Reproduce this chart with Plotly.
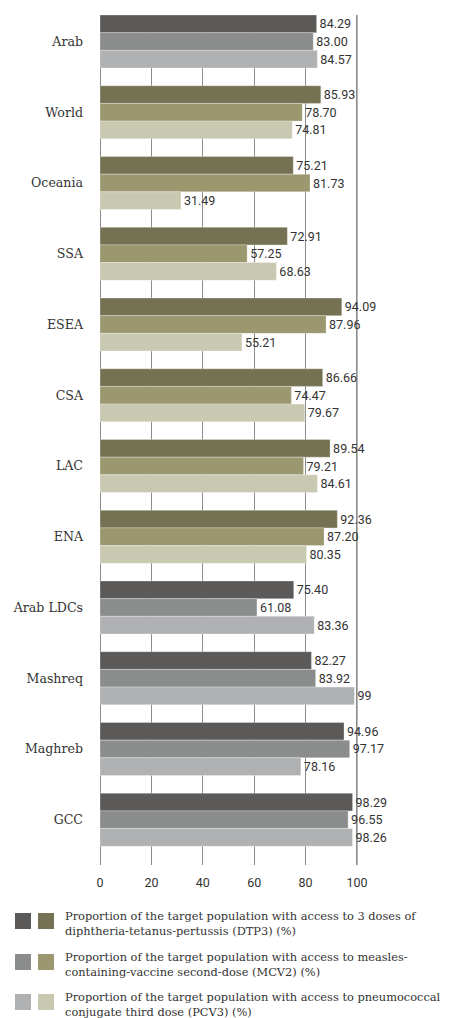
import plotly.graph_objects as go

# Regions, top to bottom
regions = ["Arab", "World", "Oceania", "SSA", "ESEA", "CSA", "LAC", "ENA",
           "Arab LDCs", "Mashreq", "Maghreb", "GCC"]

# Coverage values (%), kept as the printed labels
dtp3 = ["84.29", "85.93", "75.21", "72.91", "94.09", "86.66", "89.54", "92.36",
        "75.40", "82.27", "94.96", "98.29"]
mcv2 = ["83.00", "78.70", "81.73", "57.25", "87.96", "74.47", "79.21", "87.20",
        "61.08", "83.92", "97.17", "96.55"]
pcv3 = ["84.57", "74.81", "31.49", "68.63", "55.21", "79.67", "84.61", "80.35",
        "83.36", "99", "78.16", "98.26"]

x_ticks = [0, 20, 40, 60, 80, 100]

arab_regions = {"Arab", "Arab LDCs", "Mashreq", "Maghreb", "GCC"}

legend_texts = [
    "Proportion of the target population with access to 3 doses of<br>diphtheria-tetanus-pertussis (DTP3) (%)",
    "Proportion of the target population with access to measles-<br>containing-vaccine second-dose (MCV2) (%)",
    "Proportion of the target population with access to pneumococcal<br>conjugate third dose (PCV3) (%)",
]

# palettes: (grey for Arab groupings, olive for world regions)
palettes = [
    ("#5b5a58", "#757253"),
    ("#8b8d8d", "#9b976f"),
    ("#b0b1b3", "#c9c8b1"),
]

W, H = 475, 1018
L, R, T, B = 99, 117, 15, 153
PW, PH = W - L - R, H - T - B


def px_x(p):
    return (p - L) / PW


def px_y(p):
    return (H - B - p) / PH


fig = go.Figure()
series = [dtp3, mcv2, pcv3]
for vals, (grey, olive) in zip(series, palettes):
    fig.add_trace(go.Bar(
        y=regions,
        x=[float(v) for v in vals],
        orientation="h",
        text=vals,
        textposition="outside",
        cliponaxis=False,
        constraintext="none",
        textfont=dict(family="Roboto", size=12.5, color="#333333"),
        marker=dict(color=[grey if r in arab_regions else olive for r in regions],
                    line=dict(color="white", width=0.3)),
        hoverinfo="skip",
        showlegend=False,
    ))

shapes = []
annotations = []
# legend rows: swatches and text
row_tops = [913, 954, 994]
for i, (top, txt) in enumerate(zip(row_tops, legend_texts)):
    grey, olive = palettes[i]
    for x0, col in [(15, grey), (38, olive)]:
        shapes.append(dict(type="rect", xref="paper", yref="paper",
                           x0=px_x(x0), x1=px_x(x0 + 16),
                           y0=px_y(top + 16), y1=px_y(top),
                           fillcolor=col, line=dict(width=0)))
    annotations.append(dict(xref="paper", yref="paper", x=px_x(63), y=px_y(top + 10),
                            xanchor="left", yanchor="middle", align="left",
                            text=txt, showarrow=False,
                            font=dict(family="DejaVu Serif", size=11.4, color="#333333")))

# heavier rule at 100%
shapes.append(dict(type="line", xref="x", yref="paper", x0=100, x1=100, y0=0, y1=1,
                   line=dict(color="#b4b4b4", width=2), layer="below"))

fig.update_layout(
    width=W, height=H,
    margin=dict(l=L, r=R, t=T, b=B),
    paper_bgcolor="white", plot_bgcolor="white",
    barmode="group", bargap=0.25, bargroupgap=0,
    shapes=shapes, annotations=annotations,
    xaxis=dict(range=[-0.4, 100.4], tickvals=x_ticks, showgrid=True,
               gridcolor="#8c8c8c", gridwidth=1, zeroline=False, showline=False,
               ticks="", ticklabelstandoff=8,
               tickfont=dict(family="Roboto", size=12.5, color="#333333")),
    yaxis=dict(categoryorder="array", categoryarray=regions,
               range=[11.64, -0.375], showgrid=False, zeroline=False,
               showline=False, ticks="", ticklabelstandoff=15,
               tickfont=dict(family="DejaVu Serif", size=12.6, color="#333333")),
)

fig.write_html("out.html")
